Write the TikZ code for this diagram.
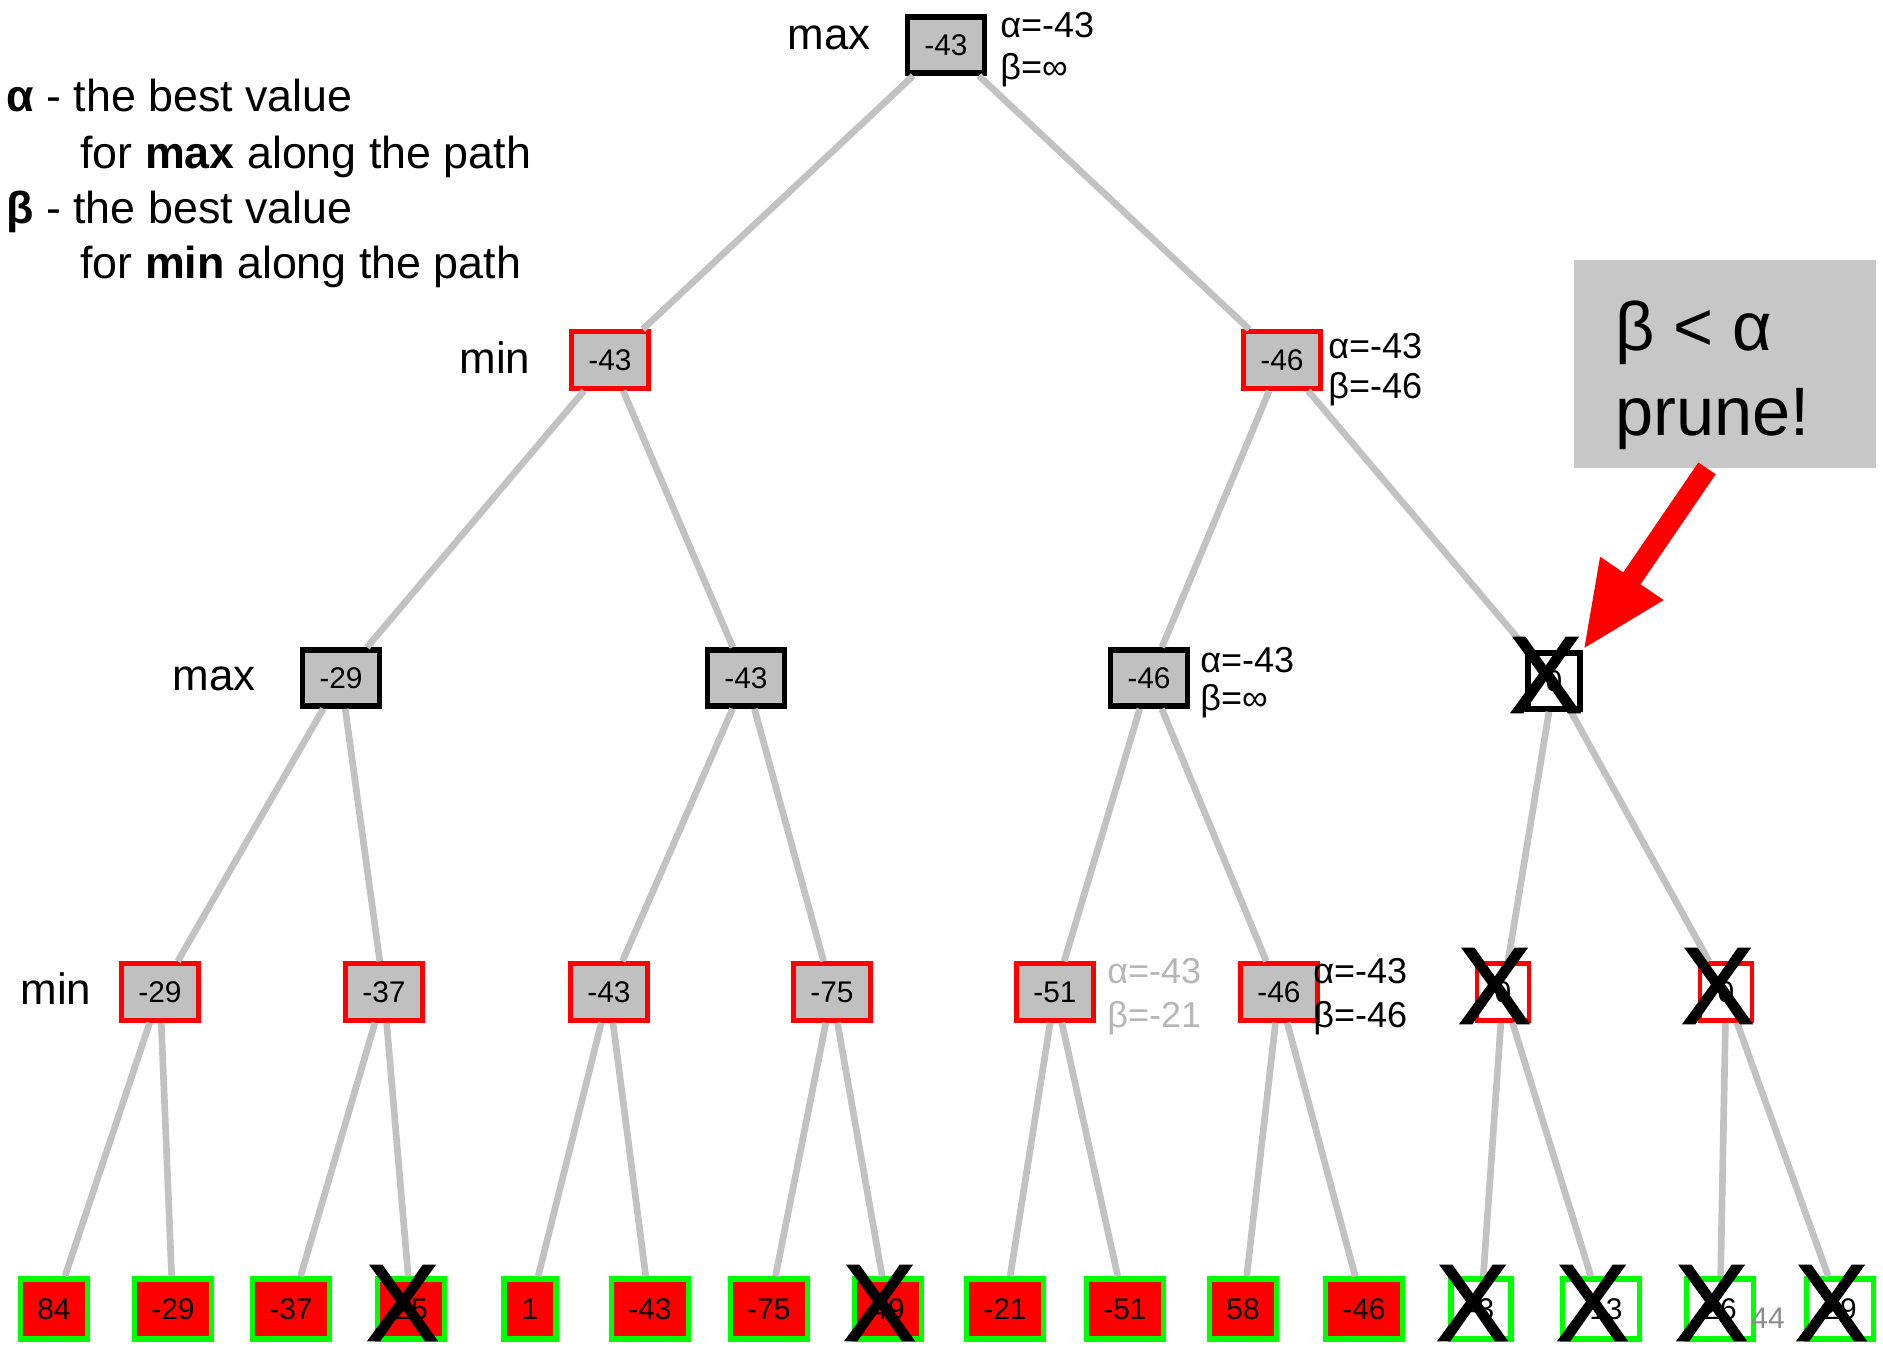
\documentclass[tikz,border=0pt]{standalone}
\usepackage{fontspec}
\setmainfont{Liberation Sans}
\newfontfamily\crossfont[FakeBold=1.6]{Liberation Sans}
\usetikzlibrary{arrows.meta}
\definecolor{boxgrey}{RGB}{192,192,192}
\definecolor{linegrey}{RGB}{194,194,194}
\definecolor{notegrey}{RGB}{199,199,199}
\definecolor{fadegrey}{RGB}{182,182,182}
\definecolor{midgrey}{RGB}{140,140,140}
\definecolor{leafgreen}{RGB}{0,255,0}

\begin{document}
\begin{tikzpicture}[x=0.02cm,y=-0.02cm,
  val/.style={rectangle,inner xsep=0.34cm,inner ysep=0pt,minimum width=1.04cm,font=\fontsize{17}{17}\selectfont},
  maxbox/.style={val,draw=black,line width=3.2pt,fill=boxgrey,minimum height=1.12cm},
  minbox/.style={val,draw=red,line width=2.6pt,fill=boxgrey,minimum height=1.14cm},
  leaf/.style={val,draw=leafgreen,line width=3.2pt,fill=red,minimum height=1.2cm},
  cut/.style={fill=white},
  deadleaf/.style={leaf,cut},
  edge/.style={draw=linegrey,line width=3.8pt},
  ab/.style={anchor=base west,inner sep=0pt,font=\fontsize{20.5}{20.5}\selectfont},
  lvl/.style={anchor=base,inner sep=0pt,font=\fontsize{25}{25}\selectfont},
  legend/.style={anchor=base west,inner sep=0pt,font=\fontsize{25.5}{25.5}\selectfont},
  cross/.style={inner sep=0pt,xshift=-0.17cm,yshift=0.12cm,font=\crossfont\fontsize{62}{62}\selectfont},
  notebox/.style={fill=notegrey,minimum width=6.04cm,minimum height=4.16cm},
  notetext/.style={anchor=base west,inner sep=0pt,font=\fontsize{39}{39}\selectfont},
  bigarrow/.style={draw=red,line width=0.42cm,-{Triangle[width=1.4cm,length=1.74cm]}}]
  \useasboundingbox (0,0) rectangle (1883,1347);

  % legend
  \node[legend] (key1) at (6,111) {\textbf{α} - the best value};
  \node[legend] (key2) at (80,168) {for \textbf{max} along the path};
  \node[legend] (key3) at (6,223) {\textbf{β} - the best value};
  \node[legend] (key4) at (80,278) {for \textbf{min} along the path};

  % levels
  \node[lvl] (lv0) at (829,49) {max};
  \node[lvl] (lv1) at (495,373) {min};
  \node[lvl] (lv2) at (214,690) {max};
  \node[lvl] (lv3) at (56,1004) {min};

  % tree
  \node[maxbox] (root) at (946,45) {-43};
  \node[minbox] (a) at (610,360) {-43};
  \node[minbox] (b) at (1282,360) {-46};
  \node[maxbox] (aa) at (341,678) {-29};
  \node[maxbox] (ab) at (746,678) {-43};
  \node[maxbox] (ba) at (1149,678) {-46};
  \node[maxbox,cut] (bb) at (1554,681) {0};
  \node[minbox] (n1) at (160,992) {-29};
  \node[minbox] (n2) at (384,992) {-37};
  \node[minbox] (n3) at (609,992) {-43};
  \node[minbox] (n4) at (832,992) {-75};
  \node[minbox] (n5) at (1055,992) {-51};
  \node[minbox] (n6) at (1279,992) {-46};
  \node[minbox,cut] (n7) at (1503,992) {0};
  \node[minbox,cut] (n8) at (1726,992) {0};
  \foreach \i/\x/\v/\s in {1/54/84/leaf, 2/173/-29/leaf, 3/291/-37/leaf, 4/411/25/leaf,
      5/530/1/leaf, 6/650/-43/leaf, 7/769/-75/leaf, 8/888/49/leaf,
      9/1005/-21/leaf, 10/1125/-51/leaf, 11/1243/58/leaf, 12/1364/-46/leaf,
      13/1481/-3/deadleaf, 14/1601/-13/deadleaf, 15/1720/26/deadleaf, 16/1840/29/deadleaf}
    \node[\s] (leaf\i) at (\x,1309) {\v};

  \foreach \p/\c in {root/a, root/b, a/aa, a/ab, b/ba, b/bb,
      aa/n1, aa/n2, ab/n3, ab/n4, ba/n5, ba/n6, bb/n7, bb/n8,
      n1/leaf1, n1/leaf2, n2/leaf3, n2/leaf4, n3/leaf5, n3/leaf6, n4/leaf7, n4/leaf8,
      n5/leaf9, n5/leaf10, n6/leaf11, n6/leaf12, n7/leaf13, n7/leaf14, n8/leaf15, n8/leaf16}
    \draw[edge] (\p) -- (\c);

  % alpha / beta
  \node[ab] (rootal) at (1000,37) {α=-43};
  \node[ab] (rootbe) at (1000,79) {β=∞};
  \node[ab] (bal) at (1328,358) {α=-43};
  \node[ab] (bbe) at (1328,398) {β=-46};
  \node[ab] (baal) at (1200,672) {α=-43};
  \node[ab] (babe) at (1200,710) {β=∞};
  \node[ab,text=fadegrey] (n5al) at (1107,983) {α=-43};
  \node[ab,text=fadegrey] (n5be) at (1107,1027) {β=-21};
  \node[ab] (n6al) at (1313,983) {α=-43};
  \node[ab] (n6be) at (1313,1027) {β=-46};
  \node[text=midgrey,inner sep=0pt,font=\fontsize{17}{17}\selectfont] (extra) at (1768,1318) {44};

  % pruned
  \foreach \n in {bb,n7,n8,leaf4,leaf8,leaf13,leaf14,leaf15,leaf16}
    \node[cross] (x\n) at (\n) {X};

  \node[notebox] (note) at (1725,364) {};
  \node[notetext] (note1) at (1615,350) {β < α};
  \node[notetext] (note2) at (1615,435) {prune!};
  \draw[bigarrow] ([xshift=-0.36cm]note.south) -- (bb.north east);
\end{tikzpicture}
\end{document}
